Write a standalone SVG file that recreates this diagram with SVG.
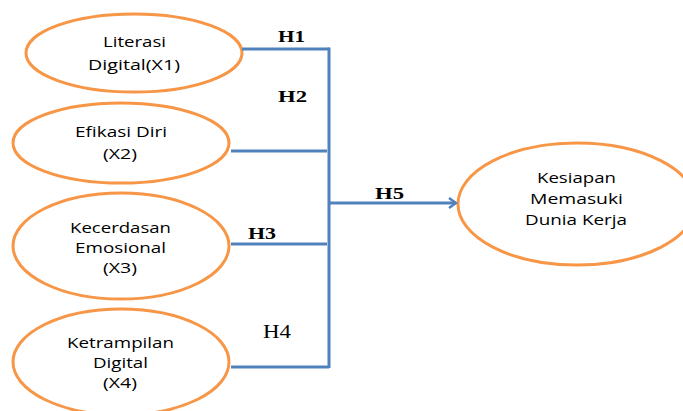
<svg xmlns="http://www.w3.org/2000/svg" width="683" height="411" viewBox="0 0 683 411">
<style>
.node ellipse{fill:#fff;stroke:#f79646;stroke-width:3}
.node text{font-family:"Open Sans","Liberation Sans",sans-serif;font-size:15px;fill:#000;text-anchor:middle}
.conn line,.conn path{stroke:#4f81bd;stroke-width:3;fill:none}
.lbl{font-family:"Liberation Serif",serif;font-size:16px;fill:#000}
.b{font-weight:bold}
.r{font-size:18px}
</style>
<defs>
<marker id="arr" markerWidth="10" markerHeight="12" refX="8" refY="6" orient="auto" markerUnits="userSpaceOnUse">
<path d="M1,1 L8,6 L1,11" fill="none" stroke="#4f81bd" stroke-width="2.5"/>
</marker>
</defs>
<rect width="683" height="411" fill="#fff"/>
<g id="x1" class="node"><ellipse cx="134" cy="53" rx="108" ry="39"/><text x="134.5" y="47" textLength="63" lengthAdjust="spacingAndGlyphs">Literasi</text><text x="134" y="70" textLength="92" lengthAdjust="spacingAndGlyphs">Digital(X1)</text></g>
<g id="x2" class="node"><ellipse cx="121" cy="143" rx="108" ry="40"/><text x="121" y="137" textLength="92" lengthAdjust="spacingAndGlyphs">Efikasi Diri</text><text x="120" y="159" textLength="34" lengthAdjust="spacingAndGlyphs">(X2)</text></g>
<g id="x3" class="node"><ellipse cx="121" cy="246" rx="108" ry="53"/><text x="120.5" y="233" textLength="101" lengthAdjust="spacingAndGlyphs">Kecerdasan</text><text x="120.5" y="253" textLength="91" lengthAdjust="spacingAndGlyphs">Emosional</text><text x="120" y="273" textLength="34" lengthAdjust="spacingAndGlyphs">(X3)</text></g>
<g id="x4" class="node"><ellipse cx="121" cy="362" rx="108" ry="53"/><text x="120.5" y="348" textLength="107" lengthAdjust="spacingAndGlyphs">Ketrampilan</text><text x="120.5" y="368" textLength="55" lengthAdjust="spacingAndGlyphs">Digital</text><text x="120" y="388" textLength="34" lengthAdjust="spacingAndGlyphs">(X4)</text></g>
<g id="y" class="node"><ellipse cx="577" cy="204" rx="119" ry="61"/><text x="576.5" y="183" textLength="79" lengthAdjust="spacingAndGlyphs">Kesiapan</text><text x="576.5" y="204" textLength="93" lengthAdjust="spacingAndGlyphs">Memasuki</text><text x="576" y="225" textLength="102" lengthAdjust="spacingAndGlyphs">Dunia Kerja</text></g>
<g id="connectors" class="conn">
<line x1="242" y1="49" x2="329" y2="49"/>
<line x1="329" y1="47.5" x2="329" y2="368"/>
<line x1="231" y1="151" x2="327" y2="151"/>
<line x1="231" y1="244" x2="327" y2="244"/>
<line x1="231" y1="367" x2="329" y2="367"/>
<line x1="329" y1="203" x2="456" y2="203" marker-end="url(#arr)"/>
</g>
<g id="labels">
<text class="lbl b" x="278" y="42" textLength="27" lengthAdjust="spacingAndGlyphs">H1</text>
<text class="lbl b" x="278" y="102" textLength="29" lengthAdjust="spacingAndGlyphs">H2</text>
<text class="lbl b" x="248" y="239" textLength="28" lengthAdjust="spacingAndGlyphs">H3</text>
<text class="lbl r" x="263" y="338" textLength="28" lengthAdjust="spacingAndGlyphs">H4</text>
<text class="lbl b" x="375" y="199" textLength="29" lengthAdjust="spacingAndGlyphs">H5</text>
</g>
</svg>
